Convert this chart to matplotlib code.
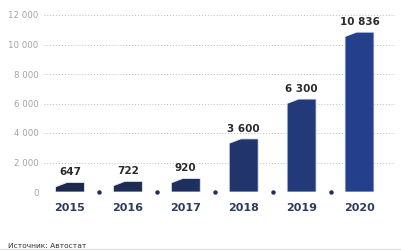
import matplotlib
matplotlib.use("Agg")
import matplotlib.pyplot as plt
from matplotlib.patches import Polygon
from matplotlib.lines import Line2D

years = ["2015", "2016", "2017", "2018", "2019", "2020"]
values = [647, 722, 920, 3600, 6300, 10836]
value_labels = ["647", "722", "920", "3 600", "6 300", "10 836"]
yticks = [0, 2000, 4000, 6000, 8000, 10000, 12000]
ytick_labels = ["0", "2 000", "4 000", "6 000", "8 000", "10 000", "12 000"]
colors = ["#1d2a50", "#1e2c56", "#1f2f5f", "#21346b", "#223a7a", "#243f8b"]

W, H = 401, 250
fig = plt.figure(figsize=(W / 100, H / 100), dpi=100)
ax = fig.add_axes([44 / W, (H - 192) / H, (395 - 44) / W, 177 / H])
ax.set_xlim(-0.449, 5.613)
ax.set_ylim(0, 12000)

for s in ax.spines.values():
    s.set_visible(False)
ax.set_xticks([])
ax.set_yticks(yticks)
ax.set_yticklabels(ytick_labels)
ax.tick_params(axis="y", length=0, pad=4, labelsize=6.2, labelcolor="#a3a3a3")
ax.yaxis.grid(True, linestyle=(0, (1, 2)), color="#bdbdbd", linewidth=0.7)
ax.set_axisbelow(True)

w = 0.5
drop = 300
for i, (v, c) in enumerate(zip(values, colors)):
    x0, x1 = i - w / 2, i + w / 2
    pts = [(x0, 0), (x0, v - drop), (x0 + 0.4 * w, v), (x1, v), (x1, 0)]
    ax.add_patch(Polygon(pts, closed=True, facecolor=c, edgecolor="#e6e9f2",
                         linewidth=0.6, zorder=3))
    ax.text(i, v + 350, value_labels[i], ha="center", va="bottom",
            fontsize=7.5, fontweight="semibold", color="#2b2b2b", zorder=4)
    ax.text(i, 0, years[i], ha="center", va="center",
            transform=ax.get_xaxis_transform() if False else ax.transData,
            fontsize=8, fontweight="bold", color="#2e3a5e")

# move year labels below axis
for t in ax.texts[1::2]:
    t.set_y(-1060)
    t.set_clip_on(False)

mids = [i + 0.5 for i in range(len(years) - 1)]
ax.plot(mids, [0] * len(mids), linestyle="none", marker="o", markersize=2.2,
        color="#1f2f5f", zorder=4, clip_on=False)

fig.text(8 / W, 1 - 245.5 / H, "Источник: Автостат", fontsize=5.4,
         color="#333333", ha="left", va="center")
fig.add_artist(Line2D([0, 1], [1 - 249 / H, 1 - 249 / H], transform=fig.transFigure,
                      color="#e2e2e2", linewidth=1))

fig.savefig("out.png", dpi=100)
